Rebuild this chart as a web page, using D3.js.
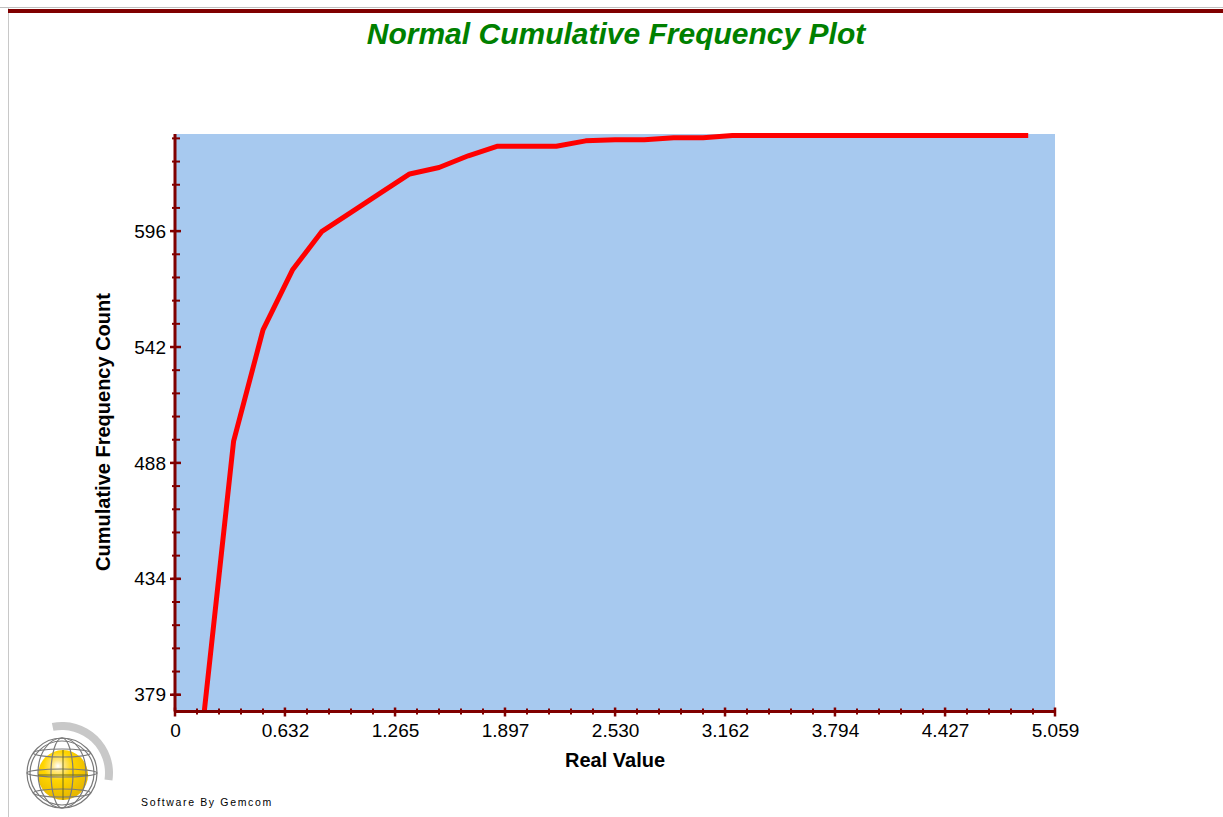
<!DOCTYPE html>
<html>
<head>
<meta charset="utf-8">
<script src="https://cdn.jsdelivr.net/npm/d3@7"></script>
<style>
  html, body { margin: 0; padding: 0; background: #ffffff; }
  svg { display: block; }
  text { font-family: "Liberation Sans", Arial, sans-serif; }
</style>
</head>
<body>
<svg id="chart" width="1223" height="817"></svg>
<script>
// Cumulative count at each real-value bin edge
const realValues = [0.169, 0.337, 0.506, 0.675, 0.843, 1.012, 1.180, 1.349, 1.518, 1.686,
                    1.855, 2.192, 2.361, 2.530, 2.698, 2.867, 3.036, 3.204, 4.905];
const cumulativeCounts = [372, 498, 550, 578, 596, 605, 614, 623, 626, 631.5,
                          636, 636, 638.5, 639, 639, 640, 640, 641, 641];

// Axis ticks
const xTickValues = [0, 0.632, 1.265, 1.897, 2.530, 3.162, 3.794, 4.427, 5.059];
const xTickLabels = ["0", "0.632", "1.265", "1.897", "2.530", "3.162", "3.794", "4.427", "5.059"];
const yTickValues = [379.25, 433.5, 487.75, 542, 596.25];
const yTickLabels = ["379", "434", "488", "542", "596"];

const xDomain = [0, 5.059];
const yDomain = [371.4, 641.7];

const svg = d3.select("#chart");
const axisColor = "#800000";
const font = "'Liberation Sans', Arial, sans-serif";

// Page frame
svg.append("line").attr("x1", 0).attr("x2", 1223).attr("y1", 7.5).attr("y2", 7.5)
  .attr("stroke", "#c0c0c0").attr("stroke-width", 1);
svg.append("line").attr("x1", 8.5).attr("x2", 8.5).attr("y1", 8).attr("y2", 817)
  .attr("stroke", "#c8c8c8").attr("stroke-width", 1);
svg.append("rect").attr("x", 8).attr("y", 9).attr("width", 1215).attr("height", 4)
  .attr("fill", "#800000");

// Title
svg.append("text")
  .attr("x", 616).attr("y", 44)
  .attr("text-anchor", "middle")
  .attr("font-size", 30).attr("font-weight", "bold").attr("font-style", "italic")
  .attr("fill", "#008000")
  .text("Normal Cumulative Frequency Plot");

const plot = { left: 175, right: 1055, top: 134, bottom: 711.5 };

const x = d3.scaleLinear().domain(xDomain).range([plot.left, plot.right]);
const y = d3.scaleLinear().domain(yDomain).range([plot.bottom, plot.top]);

// Plot background
svg.append("rect")
  .attr("x", plot.left).attr("y", plot.top)
  .attr("width", plot.right - plot.left).attr("height", plot.bottom - plot.top)
  .attr("fill", "#a7c9ef");

svg.append("clipPath").attr("id", "plotClip")
  .append("rect")
  .attr("x", plot.left).attr("y", plot.top - 4)
  .attr("width", plot.right - plot.left).attr("height", plot.bottom - plot.top + 4);

// Cumulative frequency line
const line = d3.line()
  .x((d, i) => x(realValues[i]))
  .y(d => y(d));

svg.append("path")
  .datum(cumulativeCounts)
  .attr("clip-path", "url(#plotClip)")
  .attr("fill", "none")
  .attr("stroke", "#ff0000")
  .attr("stroke-width", 5)
  .attr("stroke-linejoin", "round")
  .attr("d", line);

// Minor ticks: five subdivisions between labelled ticks
const xMinor = d3.range(0, 41).map(i => i * (xDomain[1] / 40));
const yStep = (yTickValues[1] - yTickValues[0]) / 5;
const yMinor = [];
for (let v = yTickValues[0]; v <= yDomain[1]; v += yStep) yMinor.push(v);

// X axis
const xAxis = d3.axisBottom(x)
  .tickValues(xTickValues)
  .tickFormat((d, i) => xTickLabels[i])
  .tickSize(0).tickPadding(12);
const gx = svg.append("g").attr("transform", `translate(0,${plot.bottom})`).call(xAxis);
gx.select(".domain").remove();
gx.selectAll("text").attr("font-size", 19).attr("fill", "#000").style("font-family", font);

const gxTicks = svg.append("g");
gxTicks.selectAll("line.minor").data(xMinor).join("line")
  .attr("x1", d => x(d)).attr("x2", d => x(d))
  .attr("y1", plot.bottom - 3).attr("y2", plot.bottom + 3)
  .attr("stroke", axisColor).attr("stroke-width", 2);
gxTicks.selectAll("line.major").data(xTickValues).join("line")
  .attr("x1", d => x(d)).attr("x2", d => x(d))
  .attr("y1", plot.bottom - 4).attr("y2", plot.bottom + 5)
  .attr("stroke", axisColor).attr("stroke-width", 2.5);

// Y axis
const yAxis = d3.axisLeft(y)
  .tickValues(yTickValues)
  .tickFormat((d, i) => yTickLabels[i])
  .tickSize(0).tickPadding(9);
const gy = svg.append("g").attr("transform", `translate(${plot.left},0)`).call(yAxis);
gy.select(".domain").remove();
gy.selectAll("text").attr("font-size", 19).attr("fill", "#000").style("font-family", font);

const gyTicks = svg.append("g");
gyTicks.selectAll("line.minor").data(yMinor).join("line")
  .attr("x1", plot.left - 3).attr("x2", plot.left + 5)
  .attr("y1", d => y(d)).attr("y2", d => y(d))
  .attr("stroke", axisColor).attr("stroke-width", 2);
gyTicks.selectAll("line.major").data(yTickValues).join("line")
  .attr("x1", plot.left - 5).attr("x2", plot.left + 6)
  .attr("y1", d => y(d)).attr("y2", d => y(d))
  .attr("stroke", axisColor).attr("stroke-width", 2.5);

// Axis lines
svg.append("line")
  .attr("x1", plot.left).attr("x2", plot.right)
  .attr("y1", plot.bottom).attr("y2", plot.bottom)
  .attr("stroke", axisColor).attr("stroke-width", 3);
svg.append("line")
  .attr("x1", plot.left).attr("x2", plot.left)
  .attr("y1", plot.top).attr("y2", plot.bottom)
  .attr("stroke", axisColor).attr("stroke-width", 3);

// Axis titles
svg.append("text")
  .attr("x", 615).attr("y", 767)
  .attr("text-anchor", "middle")
  .attr("font-size", 20).attr("font-weight", "bold").attr("fill", "#000")
  .text("Real Value");
svg.append("text")
  .attr("transform", "translate(110,432) rotate(-90)")
  .attr("text-anchor", "middle")
  .attr("font-size", 20).attr("font-weight", "bold").attr("fill", "#000")
  .text("Cumulative Frequency Count");

// Vendor credit
svg.append("text")
  .attr("x", 141).attr("y", 806)
  .attr("font-size", 10.5).attr("letter-spacing", 1.65).attr("fill", "#000")
  .text("Software By Gemcom");

// Globe emblem
const logo = svg.append("g").attr("transform", "translate(62,773)");
const defs = svg.append("defs");
const grad = defs.append("radialGradient").attr("id", "sphere")
  .attr("cx", "40%").attr("cy", "32%").attr("r", "65%");
grad.append("stop").attr("offset", "0%").attr("stop-color", "#ffffff");
grad.append("stop").attr("offset", "18%").attr("stop-color", "#ffe680");
grad.append("stop").attr("offset", "45%").attr("stop-color", "#ffd500");
grad.append("stop").attr("offset", "100%").attr("stop-color", "#e8b800");

const arc = d3.arc().innerRadius(43).outerRadius(51)
  .startAngle(-0.2).endAngle(1.72);
logo.append("path").attr("d", arc()).attr("fill", "#c8c8c8");

logo.append("circle").attr("r", 25).attr("cx", 1).attr("cy", 2).attr("fill", "url(#sphere)");

const wire = logo.append("g").attr("fill", "none").attr("stroke", "#7a7a7a").attr("stroke-width", 1.2);
wire.append("circle").attr("r", 35);
wire.append("circle").attr("r", 32);
[24, 11].forEach(rx => wire.append("ellipse").attr("rx", rx).attr("ry", 35));
[-20, 0, 20].forEach(dy => {
  const hw = Math.sqrt(35 * 35 - dy * dy);
  wire.append("ellipse").attr("cx", 0).attr("cy", dy).attr("rx", hw).attr("ry", 4);
});
logo.append("line").attr("x1", -24).attr("x2", 26).attr("y1", 2).attr("y2", 2)
  .attr("stroke", "#6a6a20").attr("stroke-width", 1);
logo.append("line").attr("x1", 1).attr("x2", 1).attr("y1", -23).attr("y2", 27)
  .attr("stroke", "#6a6a20").attr("stroke-width", 1);
</script>
</body>
</html>
